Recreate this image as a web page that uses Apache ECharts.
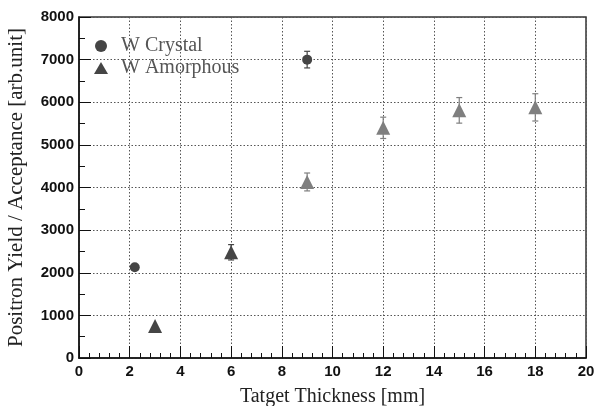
<!DOCTYPE html>
<html>
<head>
<meta charset="utf-8">
<script src="https://cdn.jsdelivr.net/npm/echarts@6/dist/echarts.min.js"></script>
<style>html,body{margin:0;padding:0;background:#fff}#c{width:596px;height:406px}</style>
</head>
<body>
<div id="c"></div>
<script>
// Data
var crystalX = [2.2, 9];
var crystalY = [2130, 7000];
var crystalErr = [0, 195];
var amorphX = [3, 6, 9, 12, 15, 18];
var amorphY = [750, 2480, 4130, 5400, 5810, 5880];
var amorphErr = [0, 180, 210, 250, 300, 320];
var xTicks = [0, 2, 4, 6, 8, 10, 12, 14, 16, 18, 20];
var yTicks = [0, 1000, 2000, 3000, 4000, 5000, 6000, 7000, 8000];

var DARK = '#454545', LIGHT = '#7f7f7f';
function amorphColor(i){ return i >= 2 ? LIGHT : DARK; }

function errSeries(xs, ys, es, colorFn){
  var d = xs.map(function(x,i){ return [x, ys[i]-es[i], ys[i]+es[i], i]; });
  return {
    type: 'custom', silent: true, z: 3,
    data: d,
    encode: {x: 0, y: [1,2]},
    renderItem: function(params, api){
      var i = api.value(3);
      var e = es[i];
      if (!e) return null;
      var lo = api.coord([api.value(0), api.value(1)]);
      var hi = api.coord([api.value(0), api.value(2)]);
      var c = colorFn(i);
      var st = {stroke: c, lineWidth: 1.2};
      return {type:'group', children:[
        {type:'line', shape:{x1:lo[0],y1:lo[1],x2:hi[0],y2:hi[1]}, style:st},
        {type:'line', shape:{x1:lo[0]-3,y1:lo[1],x2:lo[0]+3,y2:lo[1]}, style:st},
        {type:'line', shape:{x1:hi[0]-3,y1:hi[1],x2:hi[0]+3,y2:hi[1]}, style:st}
      ]};
    }
  };
}

var chart = echarts.init(document.getElementById('c'));
var serif = '"Liberation Serif", "DejaVu Serif", serif';
var sans = '"Liberation Sans", Arial, sans-serif';
chart.setOption({
  animation: false,
  backgroundColor: '#fff',
  grid: {left: 79, right: 10, top: 17, bottom: 48, show: true, borderColor: '#333', borderWidth: 1.5,
    backgroundColor: 'transparent', outerBoundsMode: 'none', containLabel: false},
  legend: {
    orient: 'vertical', left: 89, top: 31, itemGap: 2, itemWidth: 14, itemHeight: 12,
    textStyle: {fontFamily: serif, fontSize: 20, color: '#555', padding: [0, 0, 0, 8]},
    data: [
      {name: 'W Crystal', icon: 'circle', itemStyle: {color: DARK}},
      {name: 'W Amorphous', icon: 'triangle', itemStyle: {color: DARK}}
    ]
  },
  xAxis: {
    type: 'value', min: 0, max: 20, interval: 2,
    name: 'Tatget Thickness [mm]', nameLocation: 'middle', nameGap: 29,
    nameTextStyle: {fontFamily: serif, fontSize: 20, color: '#222'},
    axisLine: {onZero: false, lineStyle: {color: '#111', width: 1.5}},
    axisTick: {inside: true, length: 12, lineStyle: {color: '#111'}},
    minorTick: {show: true, splitNumber: 5, length: 5, lineStyle: {color: '#111'}},
    axisLabel: {fontFamily: sans, fontWeight: 'bold', fontSize: 15, color: '#111', margin: 6},
    splitLine: {show: true, lineStyle: {type: [1.5, 2], color: '#555', width: 1}}
  },
  yAxis: {
    type: 'value', min: 0, max: 8000, interval: 1000,
    name: 'Positron Yield / Acceptance [arb.unit]', nameLocation: 'middle', nameGap: 52,
    nameTextStyle: {fontFamily: serif, fontSize: 21, color: '#222'},
    axisLine: {show: true, onZero: false, lineStyle: {color: '#111', width: 1.5}},
    axisTick: {inside: true, length: 12, lineStyle: {color: '#111'}},
    minorTick: {show: true, splitNumber: 2, length: 6, lineStyle: {color: '#111'}},
    axisLabel: {fontFamily: sans, fontWeight: 'bold', fontSize: 15, color: '#111', margin: 5,
      formatter: function(v){ return String(v); }},
    splitLine: {show: true, lineStyle: {type: [1.5, 2], color: '#555', width: 1}}
  },
  series: [
    errSeries(crystalX, crystalY, crystalErr, function(){ return DARK; }),
    errSeries(amorphX, amorphY, amorphErr, amorphColor),
    {
      name: 'W Crystal', type: 'scatter', symbol: 'circle', symbolSize: 10, z: 4,
      itemStyle: {color: DARK, opacity: 1},
      data: crystalX.map(function(x,i){ return [x, crystalY[i]]; })
    },
    {
      name: 'W Amorphous', type: 'scatter', symbol: 'triangle', symbolSize: 14, z: 4,
      itemStyle: {color: function(p){ return amorphColor(p.dataIndex); }, opacity: 1},
      data: amorphX.map(function(x,i){ return [x, amorphY[i]]; })
    }
  ]
});
</script>
</body>
</html>
